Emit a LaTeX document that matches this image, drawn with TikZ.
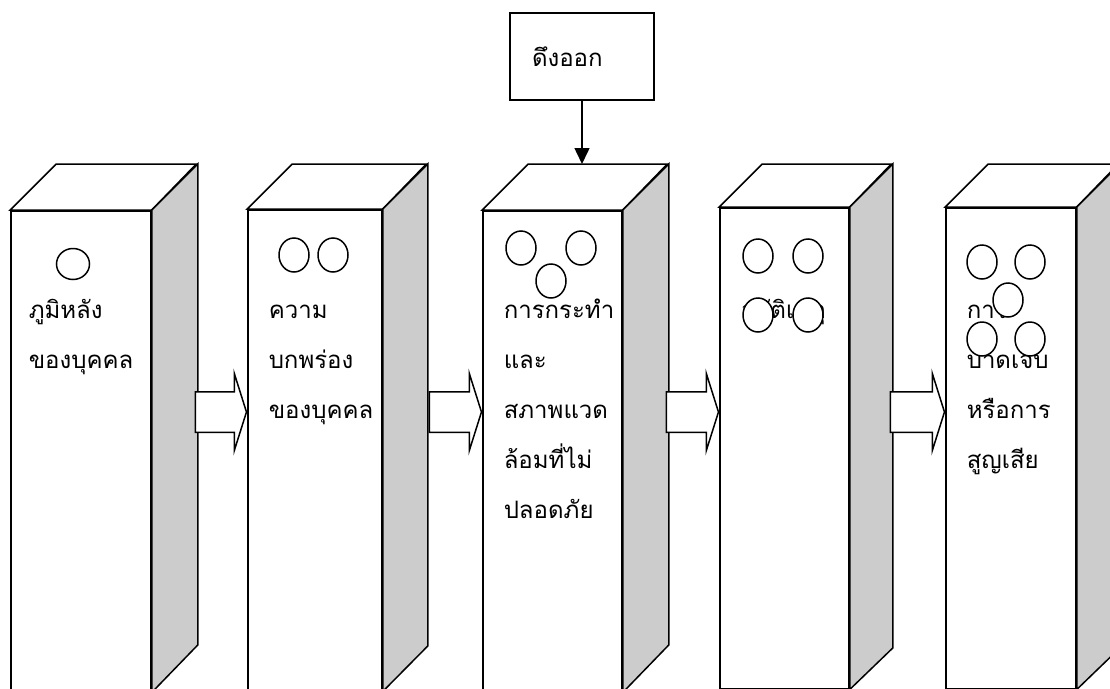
\documentclass[tikz,border=0pt]{standalone}
\usepackage{fontspec}
\newfontfamily\thaifont[Script=Thai]{Loma}
\usetikzlibrary{shapes.geometric,shapes.arrows,arrows.meta}

\tikzset{
  front/.style={rectangle, draw=black, fill=white, anchor=north, inner sep=0, minimum height=481pt},
  lid/.style={draw=black, fill=white},
  side/.style={draw=black, fill=gray!40},
  boxtext/.style={anchor=base west, align=left, inner sep=0, font=\thaifont\fontsize{24}{50}\selectfont},
  spot/.style={ellipse, draw=black, fill=white, inner sep=0, minimum width=30pt, minimum height=34pt},
  flow/.style={single arrow, draw=black, fill=white, anchor=tip, inner xsep=0, inner ysep=19.5pt,
    minimum width=0pt, single arrow head extend=18.5pt, single arrow tip angle=145},
}

\begin{document}
\begin{tikzpicture}[x=1pt, y=-1pt, line width=1.5pt]
  \useasboundingbox (0,0) rectangle (1110,688);
  \clip (0,0) rectangle (1110,688);

  % blocks
  \node[front, minimum width=140pt] (box1) at (81,210) {};
  \draw[lid] (box1.north west) -- ++(46,-46) -- ++(140,0) -- (box1.north east) -- cycle;
  \draw[side] (box1.north east) -- ++(46,-46) -- ++(0,481) -- (box1.south east) -- cycle;

  \node[front, minimum width=134pt] (box2) at (315,209) {};
  \draw[lid] (box2.north west) -- ++(45,-45) -- ++(134,0) -- (box2.north east) -- cycle;
  \draw[side] (box2.north east) -- ++(45,-45) -- ++(0,482) -- (box2.south east) -- cycle;

  \node[front, minimum width=139pt] (box3) at (552.5,210) {};
  \draw[lid] (box3.north west) -- ++(46,-46) coordinate (b3top) -- ++(139,0) -- (box3.north east) -- cycle;
  \draw[side] (box3.north east) -- ++(46,-46) -- ++(0,481) -- (box3.south east) -- cycle;

  \node[front, minimum width=129pt] (box4) at (784.5,207) {};
  \draw[lid] (box4.north west) -- ++(43,-43) -- ++(129,0) -- (box4.north east) -- cycle;
  \draw[side] (box4.north east) -- ++(43,-43) -- ++(0,484) -- (box4.south east) -- cycle;

  \node[front, minimum width=130pt] (box5) at (1011,207) {};
  \draw[lid] (box5.north west) -- ++(43,-43) -- ++(130,0) -- (box5.north east) -- cycle;
  \draw[side] (box5.north east) -- ++(43,-43) -- ++(0,484) -- (box5.south east) -- cycle;

  % arrows between the blocks
  \coordinate (row) at (0,412);
  \node[flow, minimum height=51pt] (a12) at (box2.west |- row) {};
  \node[flow, minimum height=52pt] (a23) at (box3.west |- row) {};
  \node[flow, minimum height=52pt] (a34) at (box4.west |- row) {};
  \node[flow, minimum height=54pt] (a45) at (box5.west |- row) {};

  % texts (placed at the baseline of their last line)
  \node[boxtext] (t1) at (28,368) {ภูมิหลัง\\ของบุคคล};
  \node[boxtext] (t2) at (268,418) {ความ\\บกพร่อง\\ของบุคคล};
  \node[boxtext] (t3) at (503,518) {การกระทำ\\และ\\สภาพแวด\\ล้อมที่ไม่\\ปลอดภัย};
  \node[boxtext] (t4) at (740,318) {อุบัติเหตุ};
  \node[boxtext] (t5) at (966,468) {การ\\บาดเจ็บ\\หรือการ\\สูญเสีย};

  % spots
  \node[spot, minimum width=33pt, minimum height=31pt] (c1) at (73,264) {};
  \node[spot] (c2a) at (294,255) {};
  \node[spot] (c2b) at (333,255) {};
  \node[spot] (c3a) at (521,248) {};
  \node[spot] (c3b) at (581,248) {};
  \node[spot] (c3c) at (551,281) {};
  \node[spot] (c4a) at (758,256) {};
  \node[spot] (c4b) at (808,256) {};
  \node[spot] (c4c) at (758,315) {};
  \node[spot] (c4d) at (808,315) {};
  \node[spot] (c5a) at (982,262) {};
  \node[spot] (c5b) at (1030,262) {};
  \node[spot] (c5c) at (1008,300) {};
  \node[spot] (c5d) at (982,339) {};
  \node[spot] (c5e) at (1030,339) {};

  % pull out
  \node[rectangle, draw=black, fill=white, minimum width=144pt, minimum height=87pt,
    text width=100pt, inner xsep=22pt, align=left,
    font=\thaifont\fontsize{24}{30}\selectfont] (pull) at (582,56.5) {ดึงออก};
  \draw[-{Triangle[length=16pt, width=15pt]}] (pull.south) -- (pull.south |- b3top);
\end{tikzpicture}
\end{document}
